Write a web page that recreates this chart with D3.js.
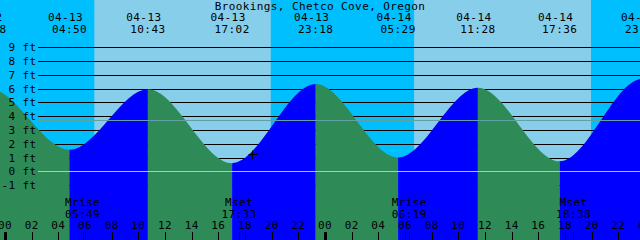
<!DOCTYPE html>
<html>
<head>
<meta charset="utf-8">
<script src="https://cdn.jsdelivr.net/npm/d3@7"></script>
<style>
  body { margin: 0; background: #fff; }
  svg { display: block; }
  text { font-family: "DejaVu Sans Mono", monospace; font-size: 11px; letter-spacing: 0.4px; fill: #000; }
</style>
</head>
<body>
<svg id="chart" width="640" height="240"></svg>
<script>
const title = "Brookings, Chetco Cove, Oregon";

// tide highs / lows (first and last are just off the chart, they only shape the curve)
const tideTimes = ["04-12 16:30", "04-12 22:48", "04-13 04:50", "04-13 10:43", "04-13 17:02",
                   "04-13 23:18", "04-14 05:29", "04-14 11:28", "04-14 17:36", "04-14 23:49", "04-15 06:00"];
const tideHeights = [0.7, 6.0, 1.56, 5.95, 0.59, 6.32, 1.0, 6.05, 0.72, 6.7, 0.6];

const sunrise = ["04-13 06:42", "04-14 06:41"];
const sunset = ["04-13 19:56", "04-14 19:57"];

const moonNames = ["Mrise", "Mset", "Mrise", "Mset"];
const moonTimes = ["04-13 05:49", "04-13 17:33", "04-14 06:19", "04-14 18:38"];

const depthTicks = [-1, 0, 1, 2, 3, 4, 5, 6, 7, 8, 9];
const meanLevel = 3.7;

const nowTime = "04-13 18:33";
const nowHeight = 1.25;

const W = 640, H = 240;
const parse = d3.utcParse("%m-%d %H:%M");
const fmtDate = d3.utcFormat("%m-%d");
const fmtTime = d3.utcFormat("%H:%M");
const fmtHour = d3.utcFormat("%H");

// 48 hours across the page, 04-13 00:00 sits at x = 5
const t0 = new Date(+parse("04-13 00:00") - 22.5 * 60000);
const t1 = new Date(+t0 + 48 * 3600000);
const x = d3.scaleTime().domain([t0, t1]).range([0, W]);
const y = d3.scaleLinear().domain([0, 9]).range([171.3, 47.1]);

const tide = tideTimes.map((t, i) => ({ t: parse(t), h: tideHeights[i] }));

const svg = d3.select("#chart");

// sky: night everywhere, day in between sunrise and sunset
svg.append("rect").attr("width", W).attr("height", H).attr("fill", "#00bfff");
svg.selectAll(".day")
  .data(sunrise)
  .enter().append("rect")
    .attr("class", "day")
    .attr("x", d => x(parse(d)))
    .attr("width", (d, i) => x(parse(sunset[i])) - x(parse(d)))
    .attr("y", 0)
    .attr("height", H)
    .attr("fill", "#87ceeb");

// depth lines, hidden by the water
const py = v => Math.round(y(v)) + 0.5;
svg.selectAll(".depth")
  .data(depthTicks)
  .enter().append("line")
    .attr("x1", 38).attr("x2", W)
    .attr("y1", py).attr("y2", py)
    .attr("stroke", "#000");

// water, blue when rising and green when falling
const area = d3.area()
  .x(d => x(d.t))
  .y0(H)
  .y1(d => y(d.h))
  .curve(d3.curveMonotoneX);

svg.append("clipPath").attr("id", "water")
  .append("path").attr("d", area(tide));

const segments = d3.pairs(tide);
svg.append("g").attr("clip-path", "url(#water)")
  .selectAll("rect")
  .data(segments)
  .enter().append("rect")
    .attr("x", d => x(d[0].t))
    .attr("width", d => x(d[1].t) - x(d[0].t))
    .attr("y", 0)
    .attr("height", H)
    .attr("fill", d => d[1].h > d[0].h ? "#0000ff" : "#2e8b57");

// datum and mean level
svg.append("line")
  .attr("x1", 38).attr("x2", W)
  .attr("y1", py(0)).attr("y2", py(0))
  .attr("stroke", "#8fd0ea");
svg.append("line")
  .attr("x1", 38).attr("x2", W)
  .attr("y1", py(meanLevel)).attr("y2", py(meanLevel))
  .attr("stroke", "#62a0a4");

// title and tide event labels
svg.append("text")
  .attr("x", W / 2).attr("y", 9.5)
  .attr("text-anchor", "middle")
  .text(title);

const events = tide.slice(1, -1);
svg.selectAll(".evdate")
  .data(events)
  .enter().append("text")
    .attr("x", d => x(d.t) - 4)
    .attr("y", 21)
    .attr("text-anchor", "middle")
    .text(d => fmtDate(d.t));
svg.selectAll(".evtime")
  .data(events)
  .enter().append("text")
    .attr("x", d => x(d.t))
    .attr("y", 33.3)
    .attr("text-anchor", "middle")
    .text(d => fmtTime(d.t));

// depth labels
svg.selectAll(".dlabel")
  .data(depthTicks)
  .enter().append("text")
    .attr("x", 36.5)
    .attr("y", d => y(d) + 4)
    .attr("text-anchor", "end")
    .text(d => d + " ft");

// moon rise / set
svg.selectAll(".moonname")
  .data(moonTimes)
  .enter().append("text")
    .attr("x", d => x(parse(d)))
    .attr("y", 206)
    .attr("text-anchor", "middle")
    .text((d, i) => moonNames[i]);
svg.selectAll(".moontime")
  .data(moonTimes)
  .enter().append("text")
    .attr("x", d => x(parse(d)))
    .attr("y", 217.5)
    .attr("text-anchor", "middle")
    .text(d => fmtTime(parse(d)));

// hour axis along the bottom
const hours = d3.utcHour.every(2).range(new Date(+t0 - 3600000), new Date(+t1 + 3600000));
svg.selectAll(".hlabel")
  .data(hours)
  .enter().append("text")
    .attr("x", d => x(d))
    .attr("y", 229.3)
    .attr("text-anchor", "middle")
    .text(d => fmtHour(d));

svg.selectAll(".htick")
  .data(hours)
  .enter().append("line")
    .attr("x1", d => Math.round(x(d)) + 0.5)
    .attr("x2", d => Math.round(x(d)) + 0.5)
    .attr("y1", 232).attr("y2", H)
    .attr("stroke", "#000")
    .attr("stroke-width", d => d.getUTCHours() === 0 ? 3 : 1);

svg.selectAll(".mtick")
  .data(moonTimes)
  .enter().append("line")
    .attr("x1", d => Math.round(x(parse(d))) + 0.5)
    .attr("x2", d => Math.round(x(parse(d))) + 0.5)
    .attr("y1", 232).attr("y2", H)
    .attr("stroke", "#000");

// current time mark
const nx = Math.round(x(parse(nowTime))) + 0.5;
const ny = Math.round(y(nowHeight)) + 0.5;
svg.append("path")
  .attr("d", `M${nx - 4},${ny}H${nx + 5}M${nx},${ny - 4}V${ny + 5}`)
  .attr("stroke", "#000")
  .attr("fill", "none");
</script>
</body>
</html>
